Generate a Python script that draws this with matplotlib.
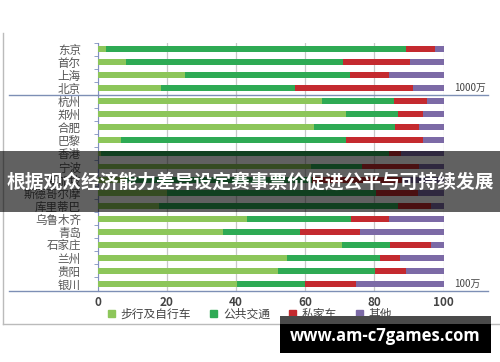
import numpy as np
import matplotlib.pyplot as plt
from matplotlib.patches import Rectangle, Patch
from matplotlib.lines import Line2D

plt.rcParams['font.family'] = ['Noto Sans CJK SC', 'DejaVu Sans']

cities = ['东京', '首尔', '上海', '北京', '杭州', '郑州', '合肥', '巴黎', '香港', '宁波',
          '新加坡', '斯德哥尔摩', '库里蒂巴', '乌鲁木齐', '青岛', '石家庄', '兰州', '贵阳', '银川']
walk = [2.6, 8.1, 25.3, 18.3, 64.9, 71.9, 62.6, 6.7, 1.0, 61.7,
        8.0, 20.0, 17.7, 43.2, 36.3, 70.6, 54.7, 52.1, 40.2]
transit = [86.7, 62.9, 47.8, 38.8, 20.8, 15.0, 23.5, 65.2, 83.3, 14.8,
           54.0, 60.5, 69.2, 30.1, 22.3, 14.0, 27.0, 28.0, 19.8]
car = [8.1, 19.2, 11.2, 34.2, 9.4, 7.3, 6.9, 22.3, 3.5, 16.5,
       26.0, 12.0, 9.6, 11.0, 17.4, 11.9, 5.6, 9.2, 14.8]
other = [100 - a - b - c for a, b, c in zip(walk, transit, car)]
series = ['步行及自行车', '公共交通', '私家车', '其他']
colors = ['#8dc65a', '#2eaa54', '#c42a2f', '#7c6aa6']

fig = plt.figure(figsize=(5, 3.62), dpi=100)
ax = fig.add_axes([0.195, 0.1975, 0.692, 0.685])

y = np.arange(len(cities))
left = np.zeros(len(cities))
for vals, col in zip([walk, transit, car, other], colors):
    ax.barh(y, vals, left=left, height=0.45, color=col, zorder=3)
    left += np.array(vals)

ax.set_xlim(0, 100)
ax.set_ylim(len(cities) - 0.5, -0.5)
ax.set_xticks([0, 20, 40, 60, 80, 100])
ax.set_yticks(y)
ax.set_yticklabels(cities, fontsize=8.3, color='#555555')
ax.set_yticks(np.arange(len(cities) + 1) - 0.5, minor=True)
ax.tick_params(axis='y', which='major', length=0, pad=12)
ax.tick_params(axis='y', which='minor', length=3, color='#8090c0', direction='out')
ax.tick_params(axis='x', length=0, labelsize=8.5, labelcolor='#444444', pad=4)
for lab in ax.get_xticklabels():
    lab.set_fontweight('bold')
ax.grid(axis='x', color='#c8c8c8', linewidth=0.9, zorder=0)
for s in ['top', 'right', 'bottom']:
    ax.spines[s].set_visible(False)
ax.spines['left'].set_color('#8090c0')

# separator lines for city size groups
tr = ax.get_yaxis_transform()
for yy, lab in [(3.5, '1000万'), (18.5, '100万')]:
    ax.add_line(Line2D([-0.257, 1.13], [yy, yy], transform=tr, color='#7d8fb5',
                       linewidth=1.0, clip_on=False, zorder=4))
    ax.text(1.03, yy - 0.5, lab, transform=tr, fontsize=7, color='#444444',
            va='center', ha='left')

# frame of the original picture
fig.add_artist(Line2D([0.005, 0.005], [1 - 33 / 362, 1 - 324 / 362], transform=fig.transFigure,
                      color='#bbbbbb', linewidth=1.0))
fig.add_artist(Line2D([0.005, 1.0], [1 - 324 / 362, 1 - 324 / 362], transform=fig.transFigure,
                      color='#bbbbbb', linewidth=1.0))

handles = [Patch(color=c) for c in colors]
fig.legend(handles, series, loc='center', bbox_to_anchor=(0.5, 0.132), ncol=4, frameon=False,
           fontsize=8.5, handlelength=0.6, handleheight=0.6, handletextpad=0.5, columnspacing=1.6,
           labelcolor='#444444')

# title banner
fig.add_artist(Rectangle((0, 1 - 212 / 362), 1, 61 / 362, transform=fig.transFigure,
                         facecolor='black', alpha=0.62, zorder=10))
fig.text(0.5, 1 - 182 / 362, '根据观众经济能力差异设定赛事票价促进公平与可持续发展',
         ha='center', va='center', color='white', fontsize=13.5, fontweight='bold', zorder=11)

# site banner
fig.add_artist(Rectangle((280 / 500, 1 - 324 / 362), 211 / 500, 8 / 362, transform=fig.transFigure,
                         facecolor='#4a4a4a', zorder=10))
fig.add_artist(Rectangle((280 / 500, 1 - 353 / 362), 211 / 500, 29 / 362, transform=fig.transFigure,
                         facecolor='black', zorder=10))
fig.text(385 / 500, 1 - 336 / 362, 'www.am-c7games.com', ha='center', va='center', color='white',
         fontsize=12, fontweight='bold', family=['Open Sans', 'DejaVu Sans'], zorder=11)

fig.savefig('out.png', dpi=100)
